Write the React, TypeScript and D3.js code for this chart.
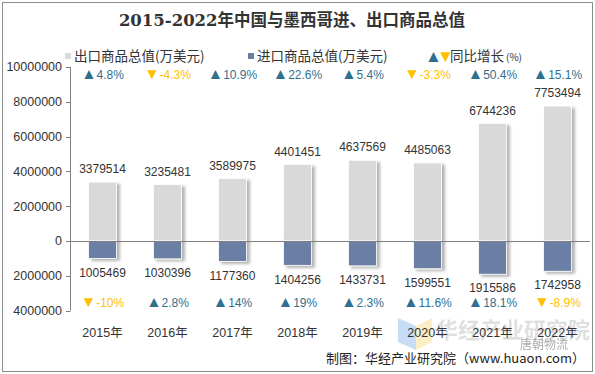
import { useEffect, useRef } from 'react';
import * as d3 from 'd3';

const years = ['2015年', '2016年', '2017年', '2018年', '2019年', '2020年', '2021年', '2022年'];
const exportValues = [3379514, 3235481, 3589975, 4401451, 4637569, 4485063, 6744236, 7753494];
const importValues = [1005469, 1030396, 1177360, 1404256, 1433731, 1599551, 1915586, 1742958];
const exportGrowth = ['4.8%', '-4.3%', '10.9%', '22.6%', '5.4%', '-3.3%', '50.4%', '15.1%'];
const importGrowth = ['-10%', '2.8%', '14%', '19%', '2.3%', '11.6%', '18.1%', '-8.9%'];
const yTicks = [-4000000, -2000000, 0, 2000000, 4000000, 6000000, 8000000, 10000000];

const UP = '#2f6f8f';
const DOWN = '#ffc000';
const sans = 'Arial, "Liberation Sans", "Noto Sans CJK SC", sans-serif';

export default function App() {
  const svgRef = useRef<SVGSVGElement>(null);

  useEffect(() => {
    if (!svgRef.current) return;
    const width = 595;
    const height = 374;
    const svg = d3.select(svgRef.current);
    svg.selectAll('*').remove();

    const defs = svg.append('defs');
    const f = defs.append('filter').attr('id', 'shadow').attr('x', '-20%').attr('y', '-20%').attr('width', '150%').attr('height', '150%');
    f.append('feDropShadow').attr('dx', 3).attr('dy', 2).attr('stdDeviation', 1.5).attr('flood-color', '#000').attr('flood-opacity', 0.3);

    svg.append('rect').attr('x', 2.5).attr('y', 2.5).attr('width', width - 5).attr('height', height - 5)
      .attr('fill', '#fff').attr('stroke', '#8c8c8c');

    const x = d3.scaleBand().domain(years).range([70, 590]).paddingInner(0.57).paddingOuter(0.285);
    const y = d3.scaleLinear().domain([-4000000, 10000000]).range([310.5, 67]);

    // title
    svg.append('text').attr('x', 292).attr('y', 26).attr('text-anchor', 'middle')
      .attr('font-family', '"DejaVu Serif", "Noto Sans CJK SC", serif').attr('font-weight', 'bold')
      .attr('font-size', 16.5).attr('fill', '#333').text('2015-2022年中国与墨西哥进、出口商品总值');

    // legend
    const lg = svg.append('g').attr('font-family', '"Noto Sans CJK SC", sans-serif').attr('font-size', 13.5).attr('fill', '#333');
    lg.append('rect').attr('x', 65).attr('y', 53).attr('width', 6).attr('height', 6).attr('fill', '#d9d9d9');
    lg.append('text').attr('x', 74).attr('y', 61).text('出口商品总值(万美元)');
    lg.append('rect').attr('x', 248).attr('y', 53).attr('width', 6).attr('height', 6).attr('fill', '#6b7fa3');
    lg.append('text').attr('x', 257).attr('y', 61).text('进口商品总值(万美元)');
    lg.append('text').attr('x', 425).attr('y', 62).attr('fill', UP).attr('font-family', sans).attr('font-size', 17).text('▲');
    lg.append('text').attr('x', 437).attr('y', 62).attr('fill', DOWN).attr('font-family', sans).attr('font-size', 17).text('▼');
    lg.append('text').attr('x', 450).attr('y', 61).text('同比增长');
    lg.append('text').attr('x', 506).attr('y', 61).attr('font-size', 10).text('(%)');

    // y axis
    const ax = svg.append('g');
    ax.append('line').attr('x1', 70.5).attr('x2', 70.5).attr('y1', y(10000000)).attr('y2', y(-4000000)).attr('stroke', '#7f7f7f');
    ax.selectAll('.tick').data(yTicks).join('line')
      .attr('x1', 66).attr('x2', 70.5).attr('y1', d => Math.round(y(d)) + 0.5).attr('y2', d => Math.round(y(d)) + 0.5)
      .attr('stroke', '#7f7f7f');
    ax.selectAll('.tl').data(yTicks).join('text')
      .attr('x', 62).attr('y', d => y(d)).attr('dy', '0.35em').attr('text-anchor', 'end')
      .attr('font-family', sans).attr('font-size', 12.5).attr('fill', '#333')
      .text(d => String(Math.abs(d)));

    // bars
    svg.append('g').selectAll('rect').data(exportValues).join('rect')
      .attr('x', (_, i) => x(years[i])!).attr('y', d => y(d)).attr('width', x.bandwidth())
      .attr('height', d => y(0) - y(d)).attr('fill', '#d9d9d9').attr('stroke', '#fff').attr('stroke-width', 0.8)
      .attr('filter', 'url(#shadow)');
    svg.append('g').selectAll('rect').data(importValues).join('rect')
      .attr('x', (_, i) => x(years[i])!).attr('y', y(0)).attr('width', x.bandwidth())
      .attr('height', d => y(-d) - y(0)).attr('fill', '#6b7fa3').attr('stroke', '#fff').attr('stroke-width', 0.8)
      .attr('filter', 'url(#shadow)');

    // zero line
    svg.append('line').attr('x1', 70.5).attr('x2', 590).attr('y1', Math.round(y(0)) + 0.5).attr('y2', Math.round(y(0)) + 0.5)
      .attr('stroke', '#7f7f7f');

    const cx = (i: number) => x(years[i])! + x.bandwidth() / 2;

    // value labels
    svg.append('g').selectAll('text').data(exportValues).join('text')
      .attr('x', (_, i) => cx(i)).attr('y', d => y(d) - 13).attr('dy', '0.35em').attr('text-anchor', 'middle')
      .attr('font-family', sans).attr('font-size', 12).attr('fill', '#333').text(d => String(d));
    svg.append('g').selectAll('text').data(importValues).join('text')
      .attr('x', (_, i) => cx(i)).attr('y', d => y(-d) + 14).attr('dy', '0.35em').attr('text-anchor', 'middle')
      .attr('font-family', sans).attr('font-size', 12).attr('fill', '#333').text(d => String(d));

    // growth labels
    const growth = (data: string[], yy: number) => {
      const t = svg.append('g').selectAll('text').data(data).join('text')
        .attr('x', (_, i) => cx(i)).attr('y', yy).attr('dy', '0.35em').attr('text-anchor', 'middle')
        .attr('font-family', sans).attr('font-size', 12)
        .attr('fill', d => (d.startsWith('-') ? DOWN : UP));
      t.append('tspan').attr('font-size', 15.5).text(d => (d.startsWith('-') ? '▼' : '▲'));
      t.append('tspan').text(d => d);
    };
    growth(exportGrowth, 75);
    growth(importGrowth, 303);

    // watermark
    const wm = svg.append('g').attr('opacity', 0.3);
    wm.append('polygon').attr('points', '398,318 416,326 416,350 398,342').attr('fill', '#4a90e2');
    wm.append('polygon').attr('points', '416,326 432,318 432,342 416,350').attr('fill', '#f5c542');
    wm.append('text').attr('x', 436).attr('y', 338).attr('font-family', '"Noto Sans CJK SC", sans-serif')
      .attr('font-size', 22).attr('font-weight', 'bold').attr('fill', '#999').text('华经产业研究院');

    // x labels
    svg.append('g').selectAll('text').data(years).join('text')
      .attr('x', (_, i) => cx(i)).attr('y', 333).attr('dy', '0.35em').attr('text-anchor', 'middle')
      .attr('font-family', sans).attr('font-size', 12.5).attr('fill', '#333').text(d => d);

    svg.append('text').attr('x', 568).attr('y', 349).attr('text-anchor', 'end')
      .attr('font-family', '"Noto Sans CJK SC", sans-serif').attr('font-size', 12).attr('fill', '#888')
      .attr('opacity', 0.7).text('唐朝物流');

    // source
    svg.append('text').attr('x', 585).attr('y', 363).attr('text-anchor', 'end')
      .attr('font-family', '"Noto Sans CJK SC", sans-serif').attr('font-size', 13).attr('fill', '#222')
      .text('制图：华经产业研究院（www.huaon.com）');
  }, []);

  return (
    <svg ref={svgRef} width={595} height={374} style={{ position: 'absolute', left: 0, top: 0 }} />
  );
}
